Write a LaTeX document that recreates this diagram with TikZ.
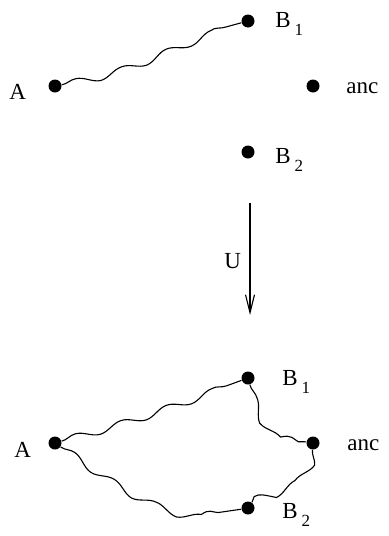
\documentclass[tikz,border=0pt]{standalone}
\usepackage{fontspec}
\setmainfont{Liberation Serif}
\usetikzlibrary{positioning,arrows.meta,decorations.pathmorphing}
\newcommand{\lowidx}[1]{\,\raisebox{-0.8ex}{\fontsize{8.5}{10}\selectfont #1}}

\begin{document}
\begin{tikzpicture}[x=0.5pt, y=-0.5pt,
  dot/.style={circle, fill=black, inner sep=0pt, minimum size=6.5pt},
  lbl/.style={anchor=base west, inner sep=0pt, font=\fontsize{11.5}{13}\selectfont},
  wave/.style={decorate, decoration={snake, segment length=24pt, amplitude=1.8pt}, line width=0.55pt}]
  \useasboundingbox (0,0) rectangle (388,536);
  % before
  \node[dot] (a1) at (55,86) {};
  \node[dot] (b11) at (248,21) {};
  \node[dot] (anc1) at (313,86) {};
  \node[dot] (b21) at (248,152) {};
  \node[lbl] at (9,99) {A};
  \node[lbl] at (275,27) {B\lowidx{1}};
  \node[lbl] at (346,93) {anc};
  \node[lbl] at (275,163) {B\lowidx{2}};
  \draw[wave] (a1) to[out=10,in=195] (b11);
  % U
  \coordinate (utop) at (250,203);
  \coordinate (ubot) at (250,315);
  \draw[line width=0.55pt, -{Straight Barb[length=9pt, width=4.5pt]}] (utop) -- (ubot);
  \node[lbl] at (224,268) {U};
  % after
  \node[dot] (a2) at (55,443) {};
  \node[dot] (b12) at (248,378) {};
  \node[dot] (anc2) at (313,443) {};
  \node[dot] (b22) at (248,508) {};
  \node[lbl] at (14,457) {A};
  \node[lbl] at (282,385) {B\lowidx{1}};
  \node[lbl] at (347,450) {anc};
  \node[lbl] at (282,518) {B\lowidx{2}};
  \draw[wave] (a2) to[out=15,in=200] (b12);
  \draw[wave] (b12) to[out=-75,in=170] (anc2);
  \draw[wave] (anc2) to[out=-95,in=55] (b22);
  \draw[wave] (a2) to[out=-35,in=190] (b22);
\end{tikzpicture}
\end{document}
